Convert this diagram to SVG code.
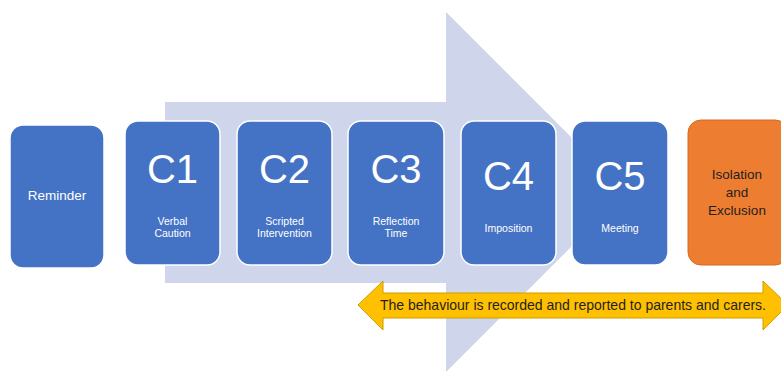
<svg xmlns="http://www.w3.org/2000/svg" width="781" height="372" viewBox="0 0 781 372">
<style>
.box{fill:#4472C4;stroke:#FFFFFF;stroke-width:1.5}
.big{font-family:"Liberation Sans",Arial,sans-serif;font-size:40px;fill:#FFFFFF;text-anchor:middle}
.sub{font-family:"Liberation Sans",Arial,sans-serif;font-size:10.5px;fill:#FFFFFF;text-anchor:middle}
.lbl{font-family:"Liberation Sans",Arial,sans-serif;font-size:13.5px;fill:#FFFFFF;text-anchor:middle}
.dark{font-family:"Liberation Sans",Arial,sans-serif;font-size:13.5px;fill:#1F1F1F;text-anchor:middle}
.note{font-family:"Liberation Sans",Arial,sans-serif;font-size:14.5px;fill:#1F1F1F;text-anchor:middle}
</style>
<rect width="781" height="372" fill="#FFFFFF"/>
<g id="connectors">
<polygon id="big-arrow" points="165,102 446,102 446,12 626,192 446,372 446,283 165,283" fill="#CFD5EA"/>
</g>
<g id="reminder">
<rect class="box" x="10" y="125" width="94" height="143" rx="13"/>
<text class="lbl" x="57" y="200">Reminder</text>
</g>
<g id="c1">
<rect class="box" x="125" y="121" width="95" height="144" rx="13"/>
<text class="big" x="172.5" y="183">C1</text>
<text class="sub" x="172.5" y="225">Verbal</text>
<text class="sub" x="172.5" y="237">Caution</text>
</g>
<g id="c2">
<rect class="box" x="237" y="121" width="95" height="144" rx="13"/>
<text class="big" x="284.5" y="183">C2</text>
<text class="sub" x="284.5" y="225">Scripted</text>
<text class="sub" x="284.5" y="237">Intervention</text>
</g>
<g id="c3">
<rect class="box" x="348" y="121" width="96" height="144" rx="13"/>
<text class="big" x="396" y="183">C3</text>
<text class="sub" x="396" y="225">Reflection</text>
<text class="sub" x="396" y="237">Time</text>
</g>
<g id="c4">
<rect class="box" x="461" y="121" width="95" height="144" rx="13"/>
<text class="big" x="508.5" y="190">C4</text>
<text class="sub" x="508.5" y="232">Imposition</text>
</g>
<g id="c5">
<rect class="box" x="572" y="121" width="96" height="144" rx="13"/>
<text class="big" x="620" y="190">C5</text>
<text class="sub" x="620" y="232">Meeting</text>
</g>
<g id="isolation">
<rect x="688" y="120" width="100" height="145" rx="13" fill="#ED7D31" stroke="#D46A22" stroke-width="1"/>
<text class="dark" x="737" y="179">Isolation</text>
<text class="dark" x="737" y="197">and</text>
<text class="dark" x="737" y="215">Exclusion</text>
</g>
<g id="record-arrow">
<polygon points="358,305 383,281 383,293 763,293 763,281 788,305 763,330 763,318 383,318 383,330" fill="#FFC000" stroke="#C9A000" stroke-width="1"/>
<text class="note" x="573" y="310" textLength="386" lengthAdjust="spacingAndGlyphs">The behaviour is recorded and reported to parents and carers.</text>
</g>
</svg>
